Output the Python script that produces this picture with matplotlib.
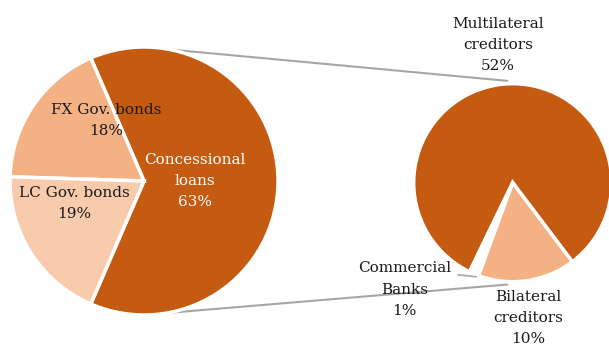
import numpy as np
import matplotlib
matplotlib.use("Agg")
import matplotlib.pyplot as plt
from matplotlib.patches import ConnectionPatch

plt.rcParams['font.family'] = ['DejaVu Serif']

# Composition of public debt
main_labels = ["Concessional\nloans", "FX Gov. bonds", "LC Gov. bonds"]
main_values = [63, 18, 19]
main_colors = ["#C55A11", "#F4B183", "#F8CBAD"]

# Breakdown of concessional loans by creditor
sub_labels = ["Multilateral\ncreditors", "Commercial\nBanks", "Bilateral\ncreditors"]
sub_values = [52, 1, 10]
sub_colors = ["#C55A11", "#FFFFFF", "#F4B183"]

W, H = 609, 349
fig = plt.figure(figsize=(W / 100, H / 100), dpi=100)


def px_axes(cx, cy, r):
    return fig.add_axes([(cx - r) / W, (H - cy - r) / H, 2 * r / W, 2 * r / H])


ax1 = px_axes(144, 181, 134)
ax2 = px_axes(512.7, 182.7, 99)

wedge_kw = dict(edgecolor="white", linewidth=2.5)

# first pie: the concessional slice is centred on the right side
start1 = -main_values[0] / 100 * 360 / 2
ax1.pie(main_values, colors=main_colors, startangle=start1,
        counterclock=True, wedgeprops=wedge_kw)

ax2.pie(sub_values, colors=sub_colors, startangle=-53,
        counterclock=True, wedgeprops=wedge_kw)

for ax in (ax1, ax2):
    ax.set_xlim(-1, 1)
    ax.set_ylim(-1, 1)
    ax.set_aspect("equal")
    ax.axis("off")

fs = 11
ls = 1.65
txt = "#1a1a1a"

def pct_label(name, v):
    return f"{name}\n{v}%"

ax1.text(0.38, 0.0, pct_label(main_labels[0], main_values[0]), color="white",
         ha="center", va="center", fontsize=fs, linespacing=ls)
ax1.text(-0.28, 0.45, pct_label(main_labels[1], main_values[1]), color=txt,
         ha="center", va="center", fontsize=fs, linespacing=ls)
ax1.text(-0.52, -0.17, pct_label(main_labels[2], main_values[2]), color=txt,
         ha="center", va="center", fontsize=fs, linespacing=ls)

ax2.text(-0.15, 1.39, pct_label(sub_labels[0], sub_values[0]), color=txt,
         ha="center", va="center", fontsize=fs, linespacing=ls, clip_on=False)
ax2.text(-1.09, -1.08, pct_label(sub_labels[1], sub_values[1]), color=txt,
         ha="center", va="center", fontsize=fs, linespacing=ls, clip_on=False)
ax2.text(0.155, -1.37, pct_label(sub_labels[2], sub_values[2]), color=txt,
         ha="center", va="center", fontsize=fs, linespacing=ls, clip_on=False)

# leader line for the small commercial banks slice
ax2.plot([-0.55, -0.37], [-0.93, -0.95], color="#A6A6A6", lw=1.2, clip_on=False)

# connector lines between the two pies
def edge(angle_deg, r=1.0):
    a = np.deg2rad(angle_deg)
    return (r * np.cos(a), r * np.sin(a))

for a1, a2 in [(79, 93), (-80, -93)]:
    con = ConnectionPatch(xyA=edge(a1), coordsA=ax1.transData,
                          xyB=edge(a2, 1.03), coordsB=ax2.transData,
                          color="#A6A6A6", lw=1.5, zorder=0)
    fig.add_artist(con)

fig.savefig("out.png", dpi=100, facecolor="white")
